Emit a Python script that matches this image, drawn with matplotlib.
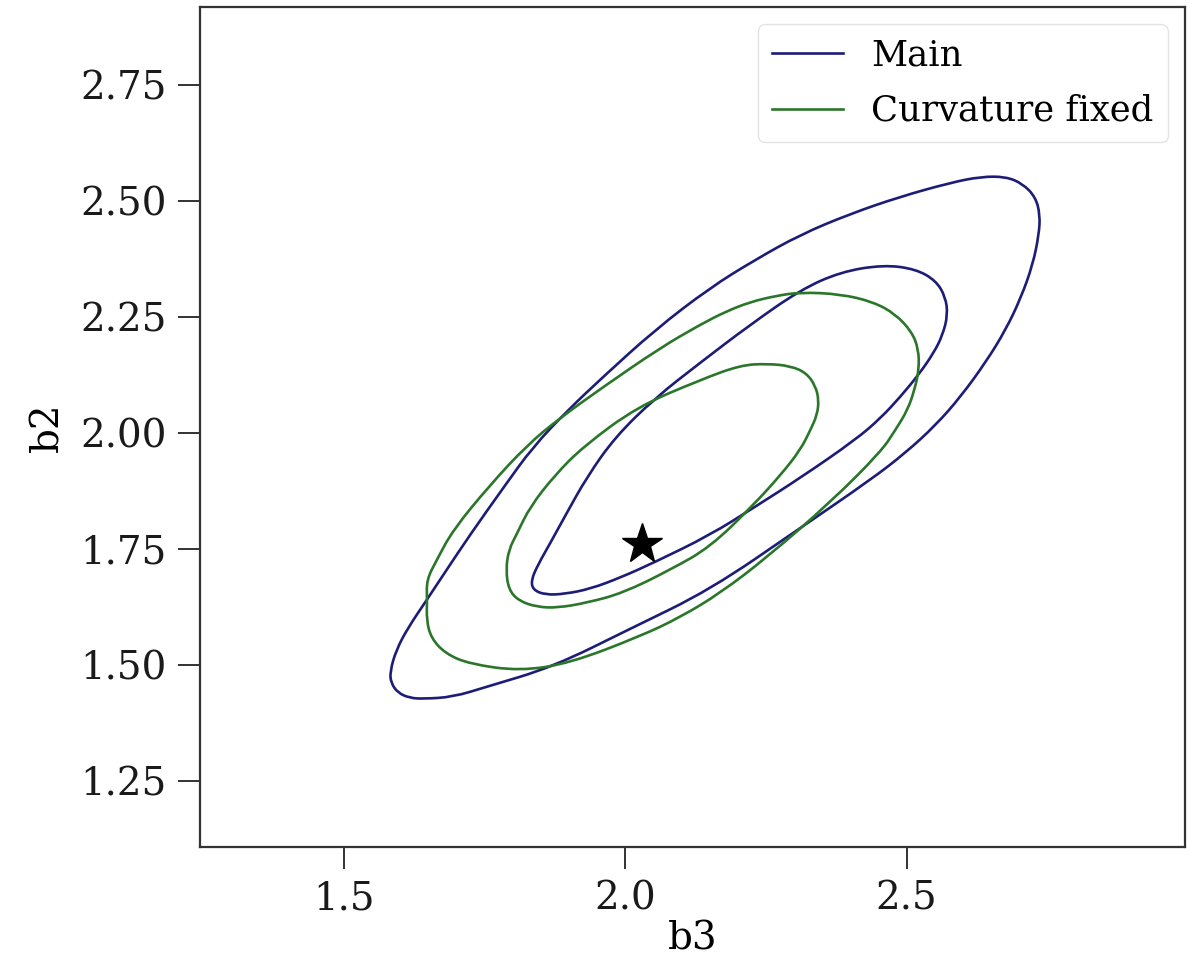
import numpy as np
import matplotlib.pyplot as plt
from matplotlib.path import Path
from matplotlib.patches import PathPatch

# contour outlines (b3, b2)
main_outer_b3 = [1.593, 1.582, 1.584, 1.596, 1.617, 1.641, 1.694, 1.754, 1.872, 2.009,
                 2.151, 2.311, 2.436, 2.498, 2.552, 2.596, 2.641, 2.676, 2.703, 2.724,
                 2.735, 2.737, 2.729, 2.706, 2.676, 2.632, 2.578, 2.489, 2.400, 2.311,
                 2.231, 2.151, 2.053, 1.961, 1.899, 1.836, 1.783, 1.724, 1.680, 1.644,
                 1.614]
main_outer_b2 = [1.532, 1.485, 1.461, 1.440, 1.429, 1.427, 1.431, 1.453, 1.496, 1.578,
                 1.662, 1.795, 1.899, 1.957, 2.017, 2.078, 2.153, 2.222, 2.291, 2.362,
                 2.427, 2.470, 2.508, 2.537, 2.552, 2.552, 2.539, 2.509, 2.472, 2.427,
                 2.373, 2.313, 2.222, 2.121, 2.050, 1.970, 1.881, 1.780, 1.700, 1.634,
                 1.580]

main_inner_b3 = [1.833, 1.836, 1.858, 1.893, 1.938, 1.991, 2.050, 2.151, 2.231, 2.311,
                 2.409, 2.454, 2.489, 2.521, 2.548, 2.564, 2.573, 2.569, 2.552, 2.516,
                 2.459, 2.383, 2.311, 2.222, 2.133, 2.053, 1.982, 1.932, 1.895, 1.867,
                 1.845]
main_inner_b2 = [1.683, 1.662, 1.651, 1.653, 1.664, 1.688, 1.720, 1.780, 1.841, 1.903,
                 1.985, 2.032, 2.078, 2.125, 2.172, 2.211, 2.254, 2.293, 2.328, 2.353,
                 2.362, 2.347, 2.308, 2.233, 2.151, 2.075, 1.991, 1.905, 1.825, 1.763,
                 1.716]

fixed_outer_b3 = [1.648, 1.647, 1.655, 1.681, 1.724, 1.813, 1.902, 2.027, 2.098, 2.169,
                  2.253, 2.365, 2.454, 2.480, 2.502, 2.514, 2.522, 2.521, 2.509, 2.480,
                  2.441, 2.383, 2.311, 2.267, 2.222, 2.178, 2.133, 2.062, 1.961, 1.884,
                  1.826, 1.760, 1.694, 1.665, 1.647]
fixed_outer_b2 = [1.640, 1.597, 1.558, 1.524, 1.502, 1.487, 1.504, 1.562, 1.603, 1.655,
                  1.733, 1.851, 1.959, 2.006, 2.050, 2.093, 2.136, 2.181, 2.218, 2.256,
                  2.282, 2.299, 2.303, 2.295, 2.282, 2.261, 2.233, 2.183, 2.099, 2.032,
                  1.974, 1.888, 1.791, 1.726, 1.683]

fixed_inner_b3 = [1.788, 1.793, 1.811, 1.843, 1.879, 1.932, 1.996, 2.080, 2.151, 2.228,
                  2.276, 2.311, 2.329, 2.341, 2.344, 2.338, 2.322, 2.294, 2.253, 2.205,
                  2.133, 2.021, 1.925, 1.875, 1.831, 1.808, 1.793]
fixed_inner_b2 = [1.705, 1.662, 1.638, 1.625, 1.623, 1.634, 1.655, 1.705, 1.754, 1.845,
                  1.909, 1.963, 2.006, 2.039, 2.071, 2.101, 2.129, 2.144, 2.149, 2.146,
                  2.114, 2.056, 1.970, 1.909, 1.841, 1.784, 1.748]

best_b3 = 2.03
best_b2 = 1.76

labels = ["Main", "Curvature fixed"]
colors = ["#1d1d78", "#2a762a"]

plt.rcParams['font.family'] = ['DejaVu Serif']
plt.rcParams['axes.edgecolor'] = '#333333'
plt.rcParams['axes.linewidth'] = 1.6
for ax_name in ['xtick', 'ytick']:
    plt.rcParams[ax_name + '.major.size'] = 16
    plt.rcParams[ax_name + '.major.width'] = 1.4
    plt.rcParams[ax_name + '.color'] = '#333333'
    plt.rcParams[ax_name + '.labelcolor'] = '#1a1a1a'
    plt.rcParams[ax_name + '.major.pad'] = 8


def smooth_loop(ax, xs, ys, color):
    # closed outline drawn as quadratic bezier pieces between the read points
    pts = np.column_stack([xs, ys])
    n = len(pts)
    mids = (pts + np.roll(pts, -1, axis=0)) / 2
    verts = [mids[-1]]
    codes = [Path.MOVETO]
    for i in range(n):
        verts += [pts[i], mids[i]]
        codes += [Path.CURVE3, Path.CURVE3]
    patch = PathPatch(Path(verts, codes), facecolor='none', edgecolor=color,
                      lw=1.9, joinstyle='round')
    ax.add_patch(patch)


fig = plt.figure(figsize=(11.96, 9.69), dpi=100)
ax = fig.add_axes([0.167, 0.126, 0.824, 0.867])

smooth_loop(ax, main_outer_b3, main_outer_b2, colors[0])
smooth_loop(ax, main_inner_b3, main_inner_b2, colors[0])
smooth_loop(ax, fixed_outer_b3, fixed_outer_b2, colors[1])
smooth_loop(ax, fixed_inner_b3, fixed_inner_b2, colors[1])

# legend entries
for lab, col in zip(labels, colors):
    ax.plot([], [], color=col, lw=1.9, label=lab)

ax.plot(best_b3, best_b2, marker='*', color='black', markersize=30, ls='none')

ax.set_xlim(1.244, 2.995)
ax.set_ylim(1.108, 2.918)
ax.set_xticks([1.5, 2.0, 2.5])
ax.set_yticks([1.25, 1.50, 1.75, 2.00, 2.25, 2.50, 2.75])
ax.tick_params(labelsize=28)
ax.set_xlabel("b3", fontsize=28, labelpad=2)
ax.set_ylabel("b2", fontsize=28, labelpad=10)

leg = ax.legend(loc='upper right', fontsize=25.5, fancybox=True, framealpha=0.8,
                labelspacing=0.6)
leg.get_frame().set_edgecolor('#dddddd')

fig.savefig("out.png", dpi=100)
